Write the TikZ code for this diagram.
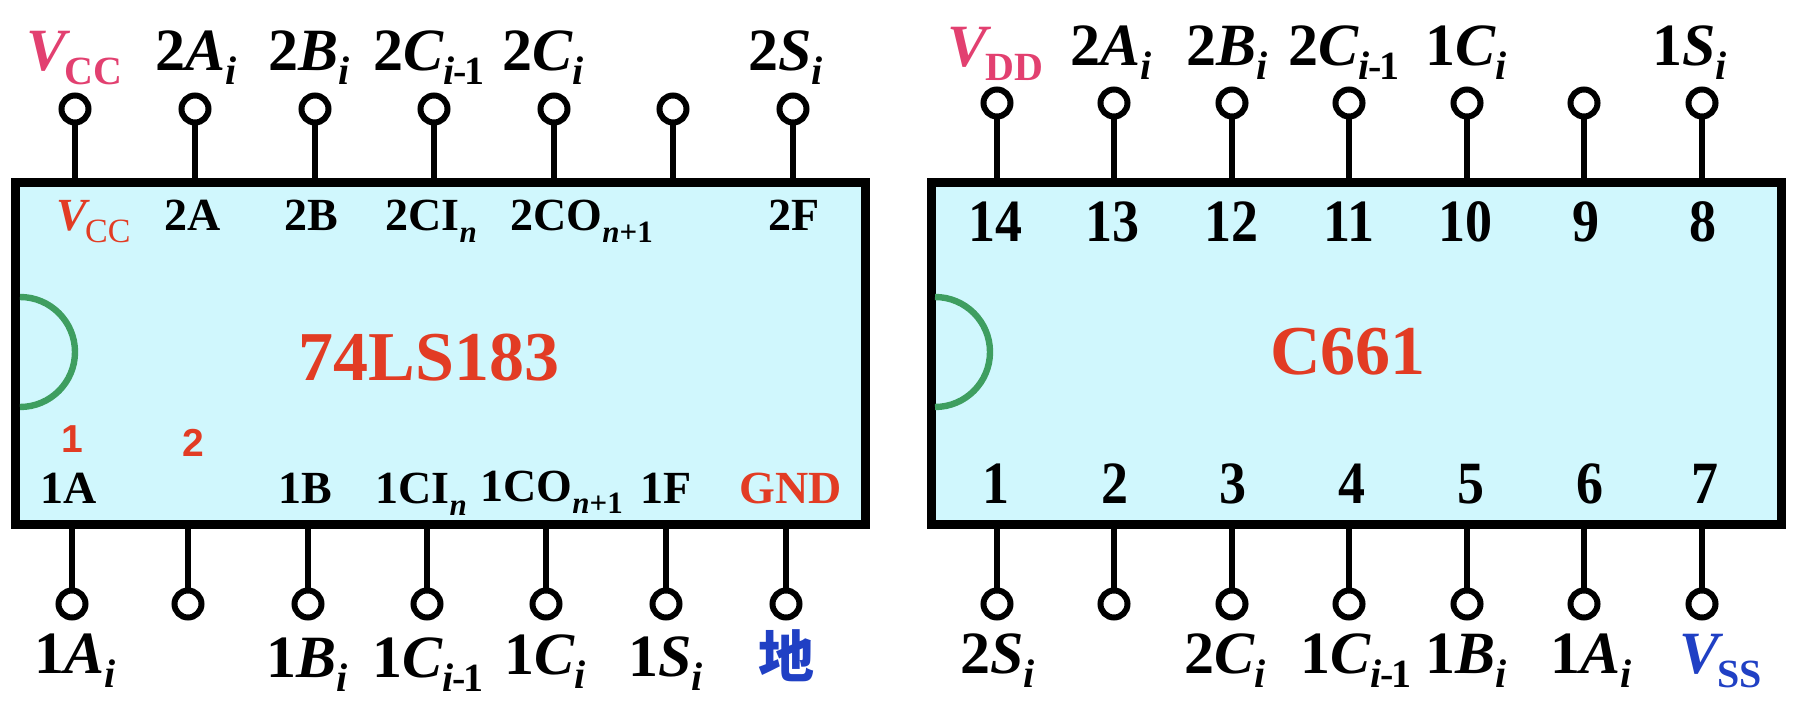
\documentclass[tikz,border=0pt]{standalone}
\usepackage{fontspec}
\setmainfont{Liberation Serif}
\newfontfamily\cjkfont{Noto Sans CJK SC}
\newfontfamily\handfont{Liberation Sans}
\definecolor{chipfill}{RGB}{208,247,253}
\definecolor{notchgreen}{RGB}{62,158,96}
\definecolor{namered}{RGB}{226,60,36}
\definecolor{powerpink}{RGB}{226,64,112}
\definecolor{groundblue}{RGB}{32,64,196}
\newcommand{\pinsub}[1]{\raisebox{-7pt}{\fontsize{20}{20}\selectfont #1}}
\newcommand{\legsub}[1]{\raisebox{-6pt}{\fontsize{15.5}{16}\selectfont #1}}
\newcommand{\prevsub}{\pinsub{\textit{i}\kern-1pt-\kern-.8pt1}}
\tikzset{
  chipbox/.style={draw,line width=4.5pt,fill=chipfill,minimum width=425pt,minimum height=171pt,outer sep=0pt,inner sep=0pt},
  pin/.style={draw,circle,line width=3pt,fill=white,minimum size=13.5pt,inner sep=0pt,outer sep=0pt},
  lead/.style={line width=2.8pt},
  notch/.style={line width=3.2pt,notchgreen},
  outerlbl/.style={anchor=base west,inner sep=0pt,font=\fontsize{30}{30}\selectfont\bfseries},
  innerlbl/.style={anchor=base west,inner sep=0pt,font=\fontsize{23}{23}\selectfont\bfseries},
  numlbl/.style={anchor=base,inner sep=0pt,font=\fontsize{30}{30}\selectfont\bfseries\addfontfeature{FakeStretch=0.9}},
  chipname/.style={anchor=base west,inner sep=0pt,text=namered,font=\fontsize{35}{35}\selectfont\bfseries},
  handlbl/.style={anchor=base,inner sep=0pt,text=namered,font=\handfont\bfseries\fontsize{19.5}{20}\selectfont}
}
\begin{document}
\begin{tikzpicture}[x=0.5pt,y=-0.5pt]
  \useasboundingbox (0,0) rectangle (1806,716);

  %the two chips
  \node[chipbox] (chipa) at (440,353.5) {};
  \node[chipbox] (chipb) at (1356.5,353.5) {};
  \draw[notch] (20,297) arc[start angle=90,end angle=-90,radius=27.5pt];
  \draw[notch] (935,297) arc[start angle=90,end angle=-90,radius=27.5pt];

  %top pins of 74LS183
  \node[pin] (at1) at (75,109) {};  \draw[lead] (at1) -- (at1 |- chipa.north);
  \node[pin] (at2) at (195,109) {}; \draw[lead] (at2) -- (at2 |- chipa.north);
  \node[pin] (at3) at (315,109) {}; \draw[lead] (at3) -- (at3 |- chipa.north);
  \node[pin] (at4) at (434,109) {}; \draw[lead] (at4) -- (at4 |- chipa.north);
  \node[pin] (at5) at (554,109) {}; \draw[lead] (at5) -- (at5 |- chipa.north);
  \node[pin] (at6) at (673,109) {}; \draw[lead] (at6) -- (at6 |- chipa.north);
  \node[pin] (at7) at (793,109) {}; \draw[lead] (at7) -- (at7 |- chipa.north);

  %bottom pins of 74LS183
  \node[pin] (ab1) at (72,604) {};  \draw[lead] (ab1) -- (ab1 |- chipa.south);
  \node[pin] (ab2) at (188,604) {}; \draw[lead] (ab2) -- (ab2 |- chipa.south);
  \node[pin] (ab3) at (308,604) {}; \draw[lead] (ab3) -- (ab3 |- chipa.south);
  \node[pin] (ab4) at (427,604) {}; \draw[lead] (ab4) -- (ab4 |- chipa.south);
  \node[pin] (ab5) at (546,604) {}; \draw[lead] (ab5) -- (ab5 |- chipa.south);
  \node[pin] (ab6) at (666,604) {}; \draw[lead] (ab6) -- (ab6 |- chipa.south);
  \node[pin] (ab7) at (786,604) {}; \draw[lead] (ab7) -- (ab7 |- chipa.south);

  %top pins of C661
  \node[pin] (bt1) at (997,103) {};  \draw[lead] (bt1) -- (bt1 |- chipb.north);
  \node[pin] (bt2) at (1114,103) {}; \draw[lead] (bt2) -- (bt2 |- chipb.north);
  \node[pin] (bt3) at (1232,103) {}; \draw[lead] (bt3) -- (bt3 |- chipb.north);
  \node[pin] (bt4) at (1349,103) {}; \draw[lead] (bt4) -- (bt4 |- chipb.north);
  \node[pin] (bt5) at (1467,103) {}; \draw[lead] (bt5) -- (bt5 |- chipb.north);
  \node[pin] (bt6) at (1584,103) {}; \draw[lead] (bt6) -- (bt6 |- chipb.north);
  \node[pin] (bt7) at (1702,103) {}; \draw[lead] (bt7) -- (bt7 |- chipb.north);

  %bottom pins of C661
  \node[pin] (bb1) at (997,604) {};  \draw[lead] (bb1) -- (bb1 |- chipb.south);
  \node[pin] (bb2) at (1114,604) {}; \draw[lead] (bb2) -- (bb2 |- chipb.south);
  \node[pin] (bb3) at (1232,604) {}; \draw[lead] (bb3) -- (bb3 |- chipb.south);
  \node[pin] (bb4) at (1349,604) {}; \draw[lead] (bb4) -- (bb4 |- chipb.south);
  \node[pin] (bb5) at (1467,604) {}; \draw[lead] (bb5) -- (bb5 |- chipb.south);
  \node[pin] (bb6) at (1584,604) {}; \draw[lead] (bb6) -- (bb6 |- chipb.south);
  \node[pin] (bb7) at (1702,604) {}; \draw[lead] (bb7) -- (bb7 |- chipb.south);

  %names of the chips
  \node[chipname] (namea) at (298,381) {74LS183};
  \node[chipname] (nameb) at (1270,375) {C661};

  %signals above 74LS183
  \node[outerlbl,text=powerpink] (sat1) at (26,71) {\textit{V}\kern-3pt\pinsub{CC}};
  \node[outerlbl] (sat2) at (155,71) {2\textit{A}\pinsub{\textit{i}}};
  \node[outerlbl] (sat3) at (268,71) {2\textit{B}\pinsub{\textit{i}}};
  \node[outerlbl] (sat4) at (373,71) {2\textit{C}\prevsub};
  \node[outerlbl] (sat5) at (502,71) {2\textit{C}\pinsub{\textit{i}}};
  \node[outerlbl] (sat7) at (748,71) {2\textit{S}\pinsub{\textit{i}}};

  %legs written inside 74LS183, top row
  \node[innerlbl,text=namered] (lat1) at (56,231) {\textit{V}\kern-2.5pt\legsub{\mdseries\fontsize{17}{17}\selectfont CC}};
  \node[innerlbl] (lat2) at (164,231) {2A};
  \node[innerlbl] (lat3) at (284,231) {2B};
  \node[innerlbl] (lat4) at (385,231) {2CI\legsub{\textit{n}}};
  \node[innerlbl] (lat5) at (510,231) {2CO\legsub{\textit{n}+1}};
  \node[innerlbl] (lat7) at (768,231) {2F};

  %legs written inside 74LS183, bottom row
  \node[innerlbl] (lab1) at (40,504) {1A};
  \node[innerlbl] (lab3) at (278,504) {1B};
  \node[innerlbl] (lab4) at (375,504) {1CI\legsub{\textit{n}}};
  \node[innerlbl] (lab5) at (480,502) {1CO\legsub{\textit{n}+1}};
  \node[innerlbl] (lab6) at (640,504) {1F};
  \node[innerlbl,text=namered] (lab7) at (739,504) {GND};

  %handwritten marks
  \node[handlbl] (hand1) at (72,453) {1};
  \node[handlbl] (hand2) at (193,457) {2};

  %signals below 74LS183
  \node[outerlbl] (sab1) at (34,674) {1\textit{A}\pinsub{\textit{i}}};
  \node[outerlbl] (sab3) at (266,677) {1\textit{B}\pinsub{\textit{i}}};
  \node[outerlbl] (sab4) at (372,677) {1\textit{C}\prevsub};
  \node[outerlbl] (sab5) at (504,675) {1\textit{C}\pinsub{\textit{i}}};
  \node[outerlbl] (sab6) at (628,676) {1\textit{S}\pinsub{\textit{i}}};
  \node[inner sep=0pt,text=groundblue,font=\cjkfont\bfseries\fontsize{28}{28}\selectfont] (sab7) at (786,656) {地};

  %signals above C661
  \node[outerlbl,text=powerpink] (sbt1) at (947,67) {\textit{V}\kern-3pt\pinsub{DD}};
  \node[outerlbl] (sbt2) at (1070,66) {2\textit{A}\pinsub{\textit{i}}};
  \node[outerlbl] (sbt3) at (1186,66) {2\textit{B}\pinsub{\textit{i}}};
  \node[outerlbl] (sbt4) at (1288,66) {2\textit{C}\prevsub};
  \node[outerlbl] (sbt5) at (1425,66) {1\textit{C}\pinsub{\textit{i}}};
  \node[outerlbl] (sbt7) at (1652,66) {1\textit{S}\pinsub{\textit{i}}};

  %pin numbers of C661, top row
  \node[numlbl] (nt1) at (995,242) {14};
  \node[numlbl] (nt2) at (1112,242) {13};
  \node[numlbl] (nt3) at (1231,242) {12};
  \node[numlbl] (nt4) at (1349,242) {11};
  \node[numlbl] (nt5) at (1465,242) {10};
  \node[numlbl] (nt6) at (1586,242) {9};
  \node[numlbl] (nt7) at (1703,242) {8};

  %pin numbers of C661, bottom row
  \node[numlbl] (nb1) at (996,504) {1};
  \node[numlbl] (nb2) at (1115,504) {2};
  \node[numlbl] (nb3) at (1233,504) {3};
  \node[numlbl] (nb4) at (1352,504) {4};
  \node[numlbl] (nb5) at (1471,504) {5};
  \node[numlbl] (nb6) at (1590,504) {6};
  \node[numlbl] (nb7) at (1705,504) {7};

  %signals below C661
  \node[outerlbl] (sbb1) at (960,674) {2\textit{S}\pinsub{\textit{i}}};
  \node[outerlbl] (sbb3) at (1184,674) {2\textit{C}\pinsub{\textit{i}}};
  \node[outerlbl] (sbb4) at (1300,674) {1\textit{C}\prevsub};
  \node[outerlbl] (sbb5) at (1425,674) {1\textit{B}\pinsub{\textit{i}}};
  \node[outerlbl] (sbb6) at (1550,674) {1\textit{A}\pinsub{\textit{i}}};
  \node[outerlbl,text=groundblue] (sbb7) at (1679,674) {\textit{V}\kern-3pt\pinsub{SS}};
\end{tikzpicture}
\end{document}
